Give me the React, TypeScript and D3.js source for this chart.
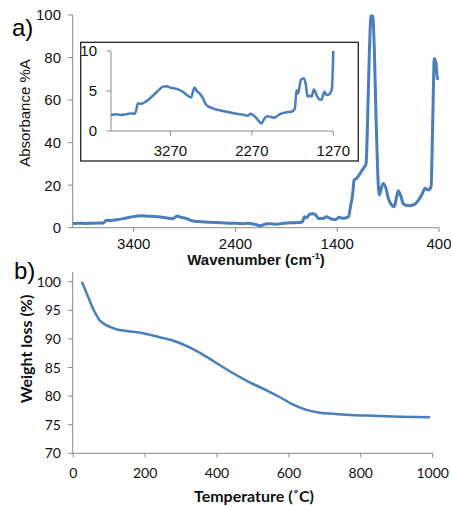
import React from 'react';
import * as d3 from 'd3';

// FTIR spectrum: [wavenumber cm-1, absorbance %A]
const spectrum: [number, number][] = [
  [4000, 2.0], [3938, 2.1], [3880, 2.0], [3815, 2.1], [3754, 2.2], [3713, 2.15],
  [3690, 2.6], [3672, 3.45], [3630, 3.4], [3569, 3.7], [3487, 4.4], [3405, 5.2],
  [3364, 5.55], [3323, 5.6], [3261, 5.4], [3200, 5.3], [3117, 4.9], [3056, 4.4],
  [3015, 4.2], [2994, 4.9], [2974, 5.45], [2945, 5.0], [2912, 4.7], [2871, 4.1],
  [2830, 3.25], [2768, 2.9], [2666, 2.6], [2584, 2.4], [2460, 2.15], [2358, 2.0],
  [2317, 1.9], [2288, 2.15], [2255, 2.0], [2214, 1.6], [2173, 1.1], [2153, 0.95],
  [2124, 1.4], [2091, 1.8], [2050, 1.8], [2009, 1.65], [1968, 1.8], [1927, 2.1],
  [1845, 2.35], [1783, 2.4], [1742, 2.8], [1722, 5.1], [1705, 4.7], [1689, 5.3],
  [1668, 6.4], [1631, 6.6], [1607, 5.75], [1586, 4.3], [1557, 4.4], [1537, 4.3],
  [1508, 5.2], [1475, 4.5], [1443, 3.95], [1414, 3.9], [1381, 4.9], [1352, 4.5],
  [1319, 4.6], [1287, 5.3], [1270, 10], [1248, 16], [1235, 22.4], [1209, 23.2],
  [1176, 25.5], [1143, 27.9], [1117, 30], [1101, 52], [1084, 83], [1068, 99.5],
  [1052, 99.5], [1035, 83], [1019, 52], [1002, 25.5], [986, 15.4], [963, 19.3],
  [947, 20.8], [921, 18.5], [898, 13.8], [865, 10.7], [839, 9.9], [816, 14.6],
  [800, 17.4], [773, 14.6], [750, 11.1], [701, 10.3], [636, 11.1], [570, 15.4],
  [537, 18.5], [504, 17.7], [478, 19.3], [462, 49], [446, 79.6], [429, 77],
  [416, 70.2], [400, 70],
];

// TGA curve: [temperature °C, weight %]
const tga: [number, number][] = [
  [24, 100], [34, 98.5], [45, 96.8], [59, 94.8], [73, 93.3], [92, 92.4],
  [120, 91.7], [148, 91.4], [194, 91], [240, 90.3], [287, 89.5], [324, 88.5],
  [370, 86.9], [408, 85.4], [445, 84.0], [491, 82.4], [538, 81.0], [575, 79.8],
  [612, 78.5], [649, 77.6], [686, 77.1], [723, 76.9], [770, 76.7], [816, 76.6],
  [909, 76.4], [993, 76.3],
];

const mainXTicks = [3400, 2400, 1400, 400];
const mainYTicks = [0, 20, 40, 60, 80, 100];
const insetXTicks = [3270, 2270, 1270];
const insetYTicks = [0, 5, 10];
const tgaXTicks = [0, 200, 400, 600, 800, 1000];
const tgaYTicks = [70, 75, 80, 85, 90, 95, 100];

const BLUE = '#4a7ebb';
const AXIS = '#8a8a8a';
const ARIAL = '"Liberation Sans", Arial, sans-serif';
const CALIBRI = 'Lato, "Open Sans", sans-serif';

export default function App() {
  const xMain = d3.scaleLinear().domain([4000, 400]).range([72.7, 439]);
  const yMain = d3.scaleLinear().domain([0, 100]).range([227.7, 15]);
  const xIn = d3.scaleLinear().domain([4000, 1270]).range([111, 333.3]);
  const yIn = d3.scaleLinear().domain([0, 10]).range([131, 51]);
  const xT = d3.scaleLinear().domain([0, 1000]).range([73.2, 432.7]);
  const yT = d3.scaleLinear().domain([70, 100]).range([453.3, 281.7]);

  const mainLine = d3.line<[number, number]>()
    .x(d => xMain(d[0])).y(d => yMain(d[1])).curve(d3.curveMonotoneX);
  const insetLine = d3.line<[number, number]>()
    .x(d => xIn(d[0])).y(d => yIn(Math.min(d[1], 10))).curve(d3.curveMonotoneX);
  const tgaLine = d3.line<[number, number]>()
    .x(d => xT(d[0])).y(d => yT(d[1])).curve(d3.curveMonotoneX);

  const insetData = spectrum.filter(d => d[0] >= 1270);

  return (
    <svg width={451} height={506} style={{ position: 'absolute', left: 0, top: 0, background: '#fff' }}>
      {/* ---- a) FTIR ---- */}
      <text x={12} y={36} fontFamily={ARIAL} fontSize={24}>a)</text>
      <line x1={72.7} x2={72.7} y1={15} y2={227.7} stroke={AXIS} />
      <line x1={72.7} x2={439} y1={227.7} y2={227.7} stroke={AXIS} />
      {mainYTicks.map(t => (
        <g key={t}>
          <line x1={68} x2={72.7} y1={yMain(t)} y2={yMain(t)} stroke={AXIS} />
          <text x={61} y={yMain(t)} dy="0.36em" textAnchor="end" fontFamily={ARIAL} fontSize={15} fill="#111">{t}</text>
        </g>
      ))}
      {mainXTicks.map(t => (
        <g key={t}>
          <line x1={xMain(t)} x2={xMain(t)} y1={227.7} y2={232} stroke={AXIS} />
          <text x={xMain(t)} y={249} textAnchor="middle" fontFamily={ARIAL} fontSize={15} fill="#111">{t}</text>
        </g>
      ))}
      <text transform="translate(30,113) rotate(-90)" textAnchor="middle" fontFamily={ARIAL} fontSize={15} fill="#111">Absorbance %A</text>
      <text x={256} y={265} textAnchor="middle" fontFamily={ARIAL} fontSize={15} fontWeight="bold" fill="#111">
        Wavenumber (cm<tspan fontSize={9} dy={-6}>-1</tspan><tspan dy={6}>)</tspan>
      </text>
      <path d={mainLine(spectrum) || ''} fill="none" stroke={BLUE} strokeWidth={3} strokeLinejoin="round" />

      {/* inset */}
      <rect x={80.7} y={42.3} width={277.6} height={118.7} fill="#fff" stroke="#222" strokeWidth={1.3} />
      <line x1={111} x2={111} y1={51} y2={131} stroke={AXIS} />
      <line x1={111} x2={333.3} y1={131} y2={131} stroke={AXIS} />
      {insetYTicks.map(t => (
        <g key={t}>
          <line x1={106.5} x2={111} y1={yIn(t)} y2={yIn(t)} stroke={AXIS} />
          <text x={97} y={yIn(t)} dy="0.36em" textAnchor="end" fontFamily={ARIAL} fontSize={15} fill="#111">{t}</text>
        </g>
      ))}
      {insetXTicks.map(t => (
        <g key={t}>
          <line x1={xIn(t)} x2={xIn(t)} y1={131} y2={135.5} stroke={AXIS} />
          <text x={xIn(t)} y={156} textAnchor="middle" fontFamily={ARIAL} fontSize={15} fill="#111">{t}</text>
        </g>
      ))}
      <path d={insetLine(insetData) || ''} fill="none" stroke={BLUE} strokeWidth={2.5} strokeLinejoin="round" />

      {/* ---- b) TGA ---- */}
      <text x={14} y={279} fontFamily={ARIAL} fontSize={24}>b)</text>
      <line x1={72.7} x2={72.7} y1={272} y2={453.3} stroke={AXIS} />
      <line x1={72.7} x2={433} y1={453.3} y2={453.3} stroke={AXIS} />
      {tgaYTicks.map(t => (
        <g key={t}>
          <line x1={68} x2={72.7} y1={yT(t)} y2={yT(t)} stroke={AXIS} />
          <text x={61} y={yT(t)} dy="0.36em" textAnchor="end" fontFamily={CALIBRI} fontSize={14} fill="#111">{t}</text>
        </g>
      ))}
      {tgaXTicks.map(t => (
        <g key={t}>
          <line x1={xT(t)} x2={xT(t)} y1={453.3} y2={457.5} stroke={AXIS} />
          <text x={xT(t)} y={478} textAnchor="middle" fontFamily={CALIBRI} fontSize={14} fill="#111">{t}</text>
        </g>
      ))}
      <text transform="translate(32,349) rotate(-90)" textAnchor="middle" fontFamily={CALIBRI} fontSize={16} fontWeight="bold" fill="#111">Weight loss (%)</text>
      <text x={254} y={502} textAnchor="middle" fontFamily={CALIBRI} fontSize={16} fontWeight="bold" fill="#111">Temperature (˚C)</text>
      <path d={tgaLine(tga) || ''} fill="none" stroke={BLUE} strokeWidth={2.5} strokeLinejoin="round" />
    </svg>
  );
}
